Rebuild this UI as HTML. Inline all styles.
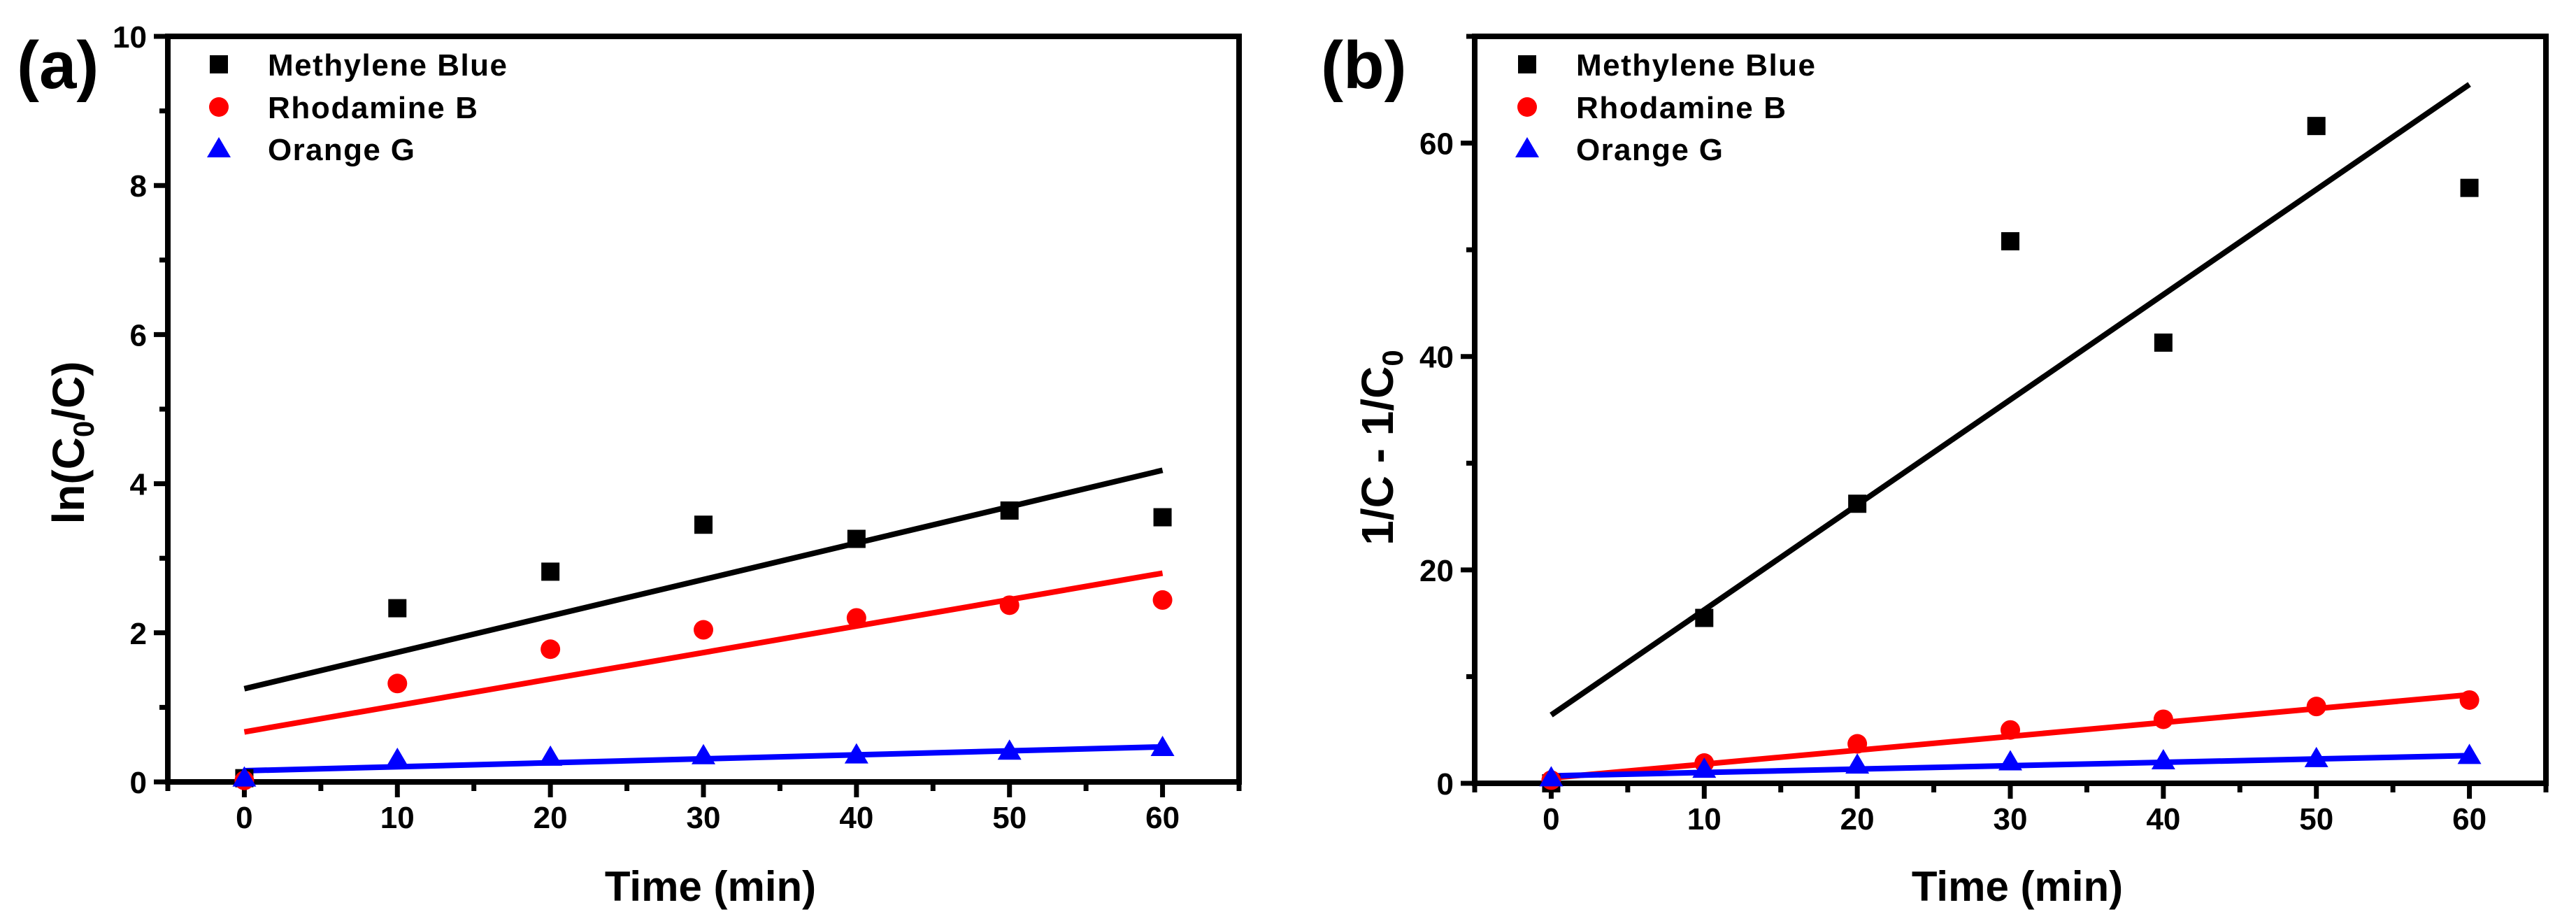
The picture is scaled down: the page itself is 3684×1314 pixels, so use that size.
<!DOCTYPE html>
<html><head><meta charset="utf-8"><style>
html,body{margin:0;padding:0;background:#fff;}
svg{display:block;font-family:"Liberation Sans",Arial,sans-serif;font-weight:bold;}
</style></head><body>
<svg id="chart" width="3684" height="1314" viewBox="0 0 3684 1314" xmlns="http://www.w3.org/2000/svg"></svg>
<script>
const times = [0,10,20,30,40,50,60];
const seriesNames = ["Methylene Blue","Rhodamine B","Orange G"];
const aMB = [0.05,2.33,2.82,3.45,3.26,3.64,3.55];
const aRhB = [0.02,1.32,1.78,2.04,2.20,2.37,2.44];
const aOG = [0.05,0.30,0.33,0.35,0.36,0.41,0.46];
const aFitMB = [1.25,4.18];
const aFitRhB = [0.67,2.80];
const aFitOG = [0.15,0.47];
const bMB = [0.0,15.5,26.2,50.8,41.3,61.6,55.8];
const bRhB = [0.3,1.9,3.7,5.0,6.0,7.2,7.8];
const bOG = [0.5,1.3,1.7,2.0,2.1,2.3,2.6];
const bFitMB = [6.4,65.5];
const bFitRhB = [0.5,8.3];
const bFitOG = [0.7,2.6];
const fitX = [0,60];
const xTicks = [0,10,20,30,40,50,60];
const aYTicks = [0,2,4,6,8,10];
const bYTicks = [0,20,40,60];

const NS="http://www.w3.org/2000/svg";
const svg=document.getElementById('chart');
function mk(tag,attrs,parent){const e=document.createElementNS(NS,tag);for(const k in attrs)e.setAttribute(k,attrs[k]);(parent||svg).appendChild(e);return e;}
const colors=["#000","#ff0000","#0000ff"];

function panel(cfg){
  const g=mk('g',{});
  
  
  const X=v=>cfg.L+(v-(-5))/70*(cfg.R-cfg.L);
  const Y=v=>cfg.B-(v-cfg.ymin)/(cfg.ymax-cfg.ymin)*(cfg.B-cfg.T);
  // frame
  const fr=mk('rect',{x:cfg.L,y:cfg.T,width:cfg.R-cfg.L,height:cfg.B-cfg.T,fill:'none',stroke:'#000','stroke-width':8},g);
  
  
  // x ticks
  for(let v=-5;v<=65;v+=5){
    const major=(v%10===0);
    const t=mk('line',{x1:X(v),x2:X(v),y1:cfg.B,y2:cfg.B+(major?22:13),stroke:'#000','stroke-width':7},g);
    
    
  }
  xTicks.forEach(v=>{
    const t=mk('text',{x:X(v),y:cfg.B+66,'text-anchor':'middle','font-size':44},g);
    t.textContent=v;
    
    
  });
  // y ticks
  for(let v=cfg.ymin;v<=cfg.ymax+1e-9;v+=cfg.minor){
    const major=Math.abs(v/cfg.major-Math.round(v/cfg.major))<1e-6;
    const t=mk('line',{x1:cfg.L,x2:cfg.L-(major?20:12),y1:Y(v),y2:Y(v),stroke:'#000','stroke-width':7},g);
    
    
  }
  cfg.yTicks.forEach(v=>{
    const t=mk('text',{x:cfg.L-30,y:Y(v)+16,'text-anchor':'end','font-size':44},g);
    t.textContent=v;
    
    
  });
  // fits
  cfg.fits.forEach((f,i)=>{
    const l=mk('line',{x1:X(fitX[0]),y1:Y(f[0]),x2:X(fitX[1]),y2:Y(f[1]),stroke:colors[i],'stroke-width':8},g);
    
    
  });
  // markers
  function marker(type,cx,cy,col,parent){
    let e;
    if(type===0) e=mk('rect',{x:cx-13,y:cy-13,width:26,height:26,fill:col},parent);
    else if(type===1) e=mk('ellipse',{cx:cx,cy:cy,rx:14,ry:14,fill:col},parent);
    else e=mk('polygon',{points:`${cx},${cy-17} ${cx+17},${cy+12} ${cx-17},${cy+12}`,fill:col},parent);
    return e;
  }
  cfg.data.forEach((arr,i)=>{
    arr.forEach((v,j)=>{
      const m=marker(i,X(times[j]),Y(v),colors[i],g);
      
      
    });
  });
  // legend
  const rows=[92,153,213];
  seriesNames.forEach((n,i)=>{
    const m=marker(i,cfg.legX,rows[i],colors[i],g);
    
    
    const t=mk('text',{x:cfg.legX+70,y:rows[i]+16,'font-size':44,textLength:(i===0?342:i===1?300:210)},g);
    t.textContent=n;
    
    
  });
  // titles
  const xt=mk('text',{x:(cfg.L+cfg.R)/2+10,y:1288,'text-anchor':'middle','font-size':60},g);
  xt.textContent='Time (min)';
  
  
  const yt=mk('text',{x:0,y:0,'text-anchor':'middle','font-size':64,transform:`translate(${cfg.ytX},${cfg.ytY}) rotate(-90)`},g);
  yt.innerHTML=cfg.ytitle;
  
  
  const pl=mk('text',{x:cfg.plX,y:126,'font-size':96},g);
  pl.textContent=cfg.label;
  
  
}
panel({name:'panel-a',L:240,R:1772,T:52,B:1118,ymin:0,ymax:10,major:2,minor:1,yTicks:aYTicks,
  data:[aMB,aRhB,aOG],fits:[aFitMB,aFitRhB,aFitOG],legX:313,
  ytitle:'ln(C<tspan font-size="42" dy="14">0</tspan><tspan dy="-14">/C)</tspan>',ytX:120,ytY:633,label:'(a)',plX:24});
panel({name:'panel-b',L:2109,R:3641,T:52,B:1120,ymin:0,ymax:70,major:20,minor:10,yTicks:bYTicks,
  data:[bMB,bRhB,bOG],fits:[bFitMB,bFitRhB,bFitOG],legX:2184,
  ytitle:'1/C - 1/C<tspan font-size="42" dy="14">0</tspan>',ytX:1992,ytY:640,label:'(b)',plX:1889});
</script>
</body></html>
